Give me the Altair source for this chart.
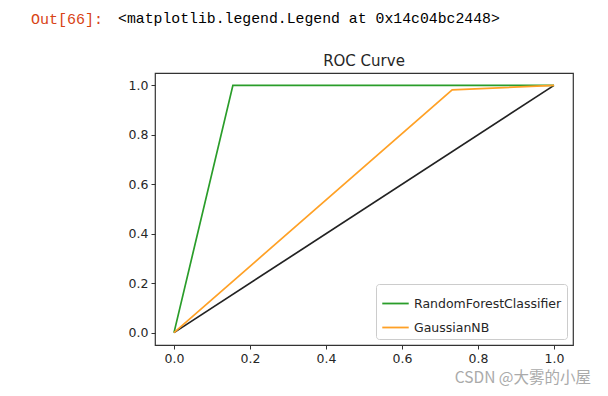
import altair as alt
import pandas as pd

# ROC curve points
rf_fpr = [0.0, 0.155, 1.0]
rf_tpr = [0.0, 1.0, 1.0]
nb_fpr = [0.0, 0.732, 1.0]
nb_tpr = [0.0, 0.982, 1.0]
diag_x = [0.0, 1.0]
diag_y = [0.0, 1.0]
series_names = ["RandomForestClassifier", "GaussianNB"]
series_colors = ["#2a9d2a", "#ffa126"]
tick_values = [0.0, 0.2, 0.4, 0.6, 0.8, 1.0]

rows = []
for i, (x, y) in enumerate(zip(rf_fpr, rf_tpr)):
    rows.append({"fpr": x, "tpr": y, "model": series_names[0], "o": i})
for i, (x, y) in enumerate(zip(nb_fpr, nb_tpr)):
    rows.append({"fpr": x, "tpr": y, "model": series_names[1], "o": i})
df = pd.DataFrame(rows)
diag = pd.DataFrame({"fpr": diag_x, "tpr": diag_y})

FONT = "DejaVu Sans"
xscale = alt.Scale(domain=[-0.05, 1.05], nice=False, zero=False)
yscale = alt.Scale(domain=[-0.05, 1.05], nice=False, zero=False)
axis_common = dict(values=tick_values, format=".1f", grid=False, domain=False,
                   tickColor="#333333", tickSize=4, labelFontSize=12.5,
                   labelColor="#262626", labelFont=FONT, labelPadding=3, title=None)

diag_line = alt.Chart(diag).mark_line(color="#222222", strokeWidth=1.7).encode(
    x=alt.X("fpr:Q", scale=xscale, axis=alt.Axis(**axis_common)),
    y=alt.Y("tpr:Q", scale=yscale, axis=alt.Axis(**axis_common)),
)

lines = alt.Chart(df).mark_line(strokeWidth=1.7).encode(
    x=alt.X("fpr:Q", scale=xscale),
    y=alt.Y("tpr:Q", scale=yscale),
    order="o:Q",
    color=alt.Color("model:N",
                    scale=alt.Scale(domain=series_names, range=series_colors),
                    sort=series_names,
                    legend=alt.Legend(orient="bottom-right", title=None,
                                      symbolType="stroke", symbolSize=700,
                                      symbolStrokeWidth=1.8,
                                      labelFont=FONT, labelFontSize=12.5,
                                      labelColor="#262626",
                                      strokeColor="#cccccc", fillColor="white",
                                      cornerRadius=3, padding=5,
                                      offset=6, rowPadding=3)),
)

ann_df = pd.DataFrame({"a": [0]})
out_label = alt.Chart(ann_df).mark_text(
    text="Out[66]:", font="Liberation Mono", fontSize=15, color="#d84315",
    align="left", baseline="middle").encode(x=alt.value(-124), y=alt.value(-54))
out_text = alt.Chart(ann_df).mark_text(
    text="<matplotlib.legend.Legend at 0x14c04bc2448>", font="Liberation Mono",
    fontSize=14.8, color="#000000", align="left", baseline="middle").encode(
    x=alt.value(-37), y=alt.value(-54))
title_txt = alt.Chart(ann_df).mark_text(
    text="ROC Curve", font=FONT, fontSize=15, color="#262626",
    align="center", baseline="bottom").encode(x=alt.value(209), y=alt.value(-4))
watermark = alt.Chart(ann_df).mark_text(
    text="CSDN @大雾的小屋", font="Noto Sans CJK SC", fontSize=15.5,
    color="#aaaaaa", align="right", baseline="bottom").encode(
    x=alt.value(436), y=alt.value(313))

chart = alt.layer(diag_line, lines, out_label, out_text, title_txt, watermark).properties(
    width=418, height=272,
    background="white",
    autosize=alt.AutoSizeParams(type="none"),
    padding={"left": 147, "top": 65, "right": 20, "bottom": 48},
).configure_view(stroke="#333333", strokeWidth=1.2)

chart.save("out.html", embed_options={"renderer": "svg", "actions": False})
